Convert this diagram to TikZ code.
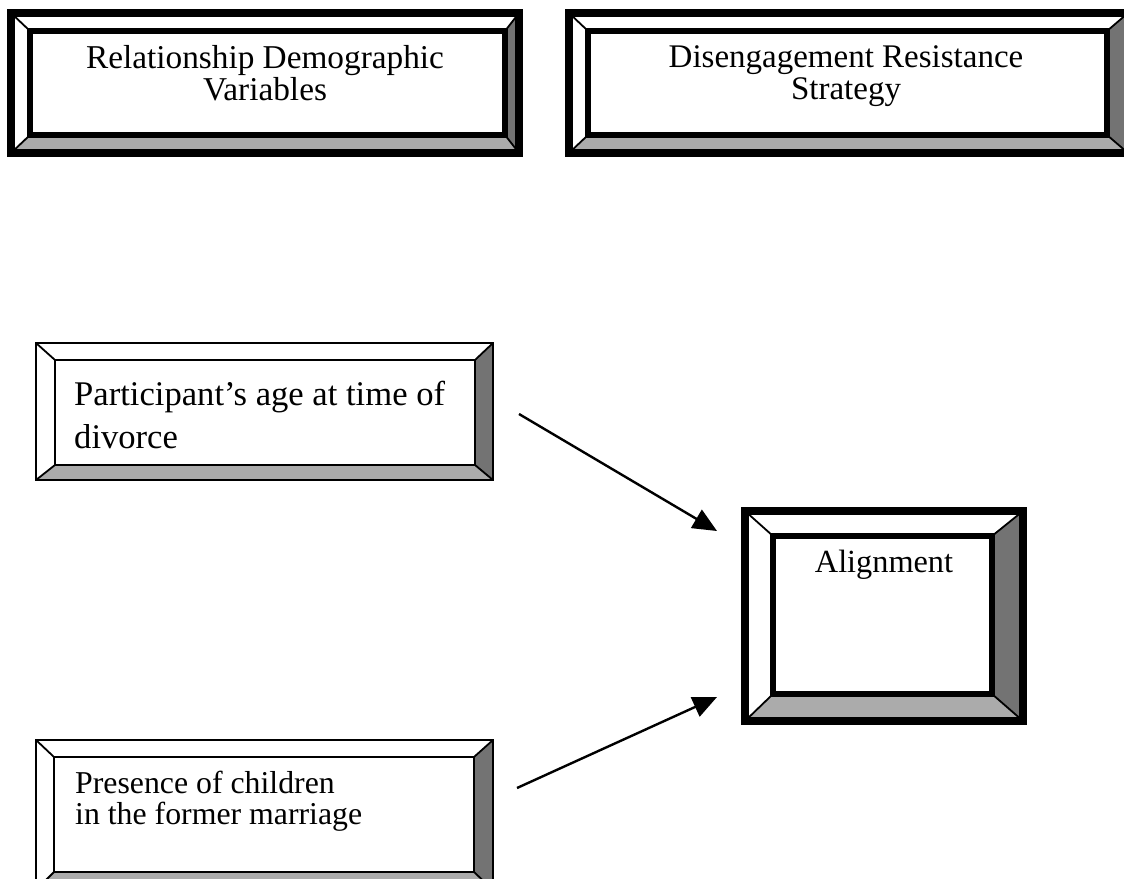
\documentclass[tikz,border=0pt]{standalone}
\usepackage{fontspec}
\setmainfont{Liberation Serif}
\usetikzlibrary{arrows.meta,calc}

% Bevelled frame around an (empty) box node #1 whose inner face is (#1-i1)-(#1-i2).
% #2 = outer border width, #3 = inner border width
\newcommand\bevelframe[3]{%
  \coordinate (#1-o1) at (#1.north west);
  \coordinate (#1-o2) at (#1.south east);
  % light bevels (top, left)
  \fill[white] (#1-o1) -- (#1-o2 |- #1-o1) -- (#1-i2 |- #1-i1) -- (#1-i1) -- cycle;
  \fill[white] (#1-o1) -- (#1-i1) -- (#1-i1 |- #1-i2) -- (#1-o1 |- #1-o2) -- cycle;
  % shaded bevels (right, bottom)
  \fill[rightshade] (#1-o2 |- #1-o1) -- (#1-o2) -- (#1-i2) -- (#1-i2 |- #1-i1) -- cycle;
  \fill[bottomshade] (#1-o1 |- #1-o2) -- (#1-o2) -- (#1-i2) -- (#1-i1 |- #1-i2) -- cycle;
  % corner edges
  \draw[bevedge] (#1-o1) -- (#1-i1);
  \draw[bevedge] (#1-o2 |- #1-o1) -- (#1-i2 |- #1-i1);
  \draw[bevedge] (#1-o2) -- (#1-i2);
  \draw[bevedge] (#1-o1 |- #1-o2) -- (#1-i1 |- #1-i2);
  % face and rim
  \draw[line width=#3] (#1-i1) rectangle (#1-i2);
  \draw[line width=#2] (#1-o1) rectangle (#1-o2);
}

\colorlet{rightshade}{black!55}
\colorlet{bottomshade}{black!33}

\tikzset{
  boxnode/.style={inner sep=0pt, outer sep=0pt, minimum width=#1},
  label text/.style={inner sep=0pt},
  link/.style={line width=2.4pt, -{Triangle[length=24pt,width=21pt]}},
  bevedge/.style={line width=1.8pt, line cap=round}
}

\begin{document}
\begin{tikzpicture}[x=1pt, y=-1pt]
  \path[use as bounding box] (0,0) rectangle (1124,878);
  \clip (0,0) rectangle (1124,878);

  % box outlines (empty nodes carry the names)
  \node[boxnode=508pt, minimum height=140pt] (rdv) at (265,83) {};
  \node[boxnode=559pt, minimum height=140pt] (drs) at (848.5,83) {};
  \node[boxnode=457pt, minimum height=137pt] (age) at (264.5,411.5) {};
  \node[boxnode=457pt, minimum height=150pt] (kid) at (264.5,815) {};
  \node[boxnode=278pt, minimum height=210pt] (aln) at (884,616) {};

  % inner faces
  \coordinate (rdv-i1) at (30,31);   \coordinate (rdv-i2) at (505,135);
  \coordinate (drs-i1) at (588,31);  \coordinate (drs-i2) at (1107,135);
  \coordinate (age-i1) at (55,360);  \coordinate (age-i2) at (475,465);
  \coordinate (kid-i1) at (54,757);  \coordinate (kid-i2) at (474,872);
  \coordinate (aln-i1) at (773,536); \coordinate (aln-i2) at (992,694);

  \bevelframe{rdv}{8pt}{6pt}
  \bevelframe{drs}{8pt}{6pt}
  \bevelframe{age}{2.5pt}{2pt}
  \bevelframe{kid}{2.5pt}{2pt}
  \bevelframe{aln}{8pt}{6pt}

  % texts
  \node[label text, align=center, font=\fontsize{33.3}{32}\selectfont] (rdv-t) at (265,72.7)
    {Relationship Demographic\\Variables};
  \node[label text, align=center, font=\fontsize{33}{32}\selectfont] (drs-t) at (846,76.4)
    {Disengagement Resistance\\Strategy};
  \node[label text, align=left, anchor=west, font=\fontsize{34.6}{43}\selectfont] (age-t) at (74,414.7)
    {Participant’s age at time of\\divorce};
  \node[label text, align=left, anchor=west, font=\fontsize{31.8}{31}\selectfont] (kid-t) at (75,801.1)
    {Presence of children\\in the former marriage};
  \node[label text, anchor=base, font=\fontsize{32.3}{36}\selectfont] (aln-t) at (884,572) {Alignment};

  % connectors
  \draw[link] ([shift={(26,2.5)}]age.east) -- ([shift={(-28,20)}]aln.north west);
  \draw[link] ([shift={(24,-27)}]kid.east) -- ([shift={(-28,-24)}]aln.south west);
\end{tikzpicture}
\end{document}
